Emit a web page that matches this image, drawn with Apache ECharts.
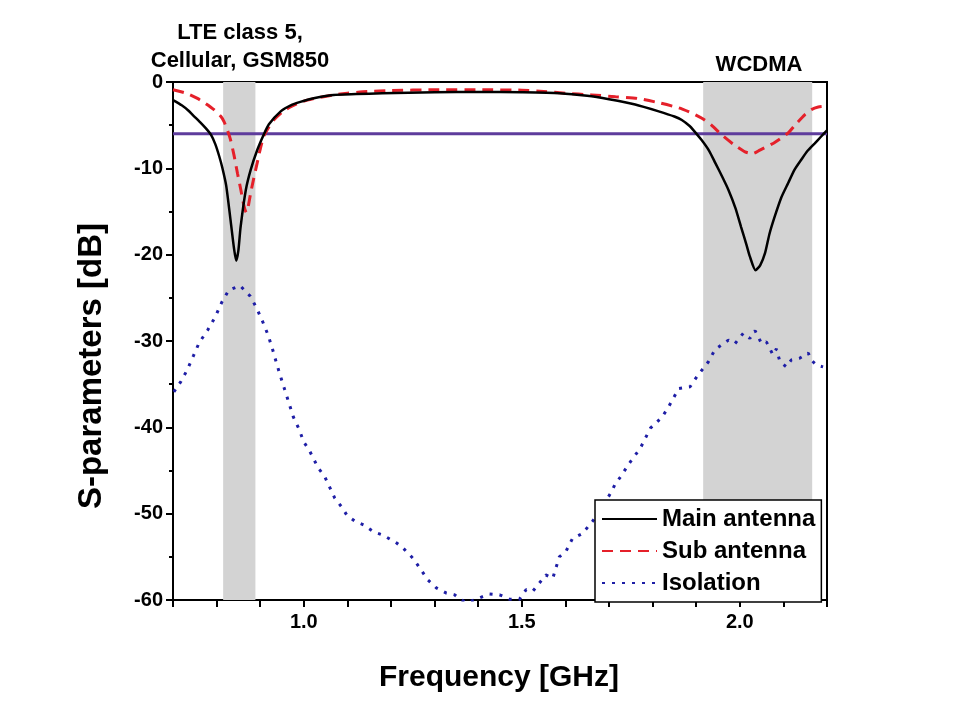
<!DOCTYPE html>
<html>
<head>
<meta charset="utf-8">
<script src="https://cdn.jsdelivr.net/npm/echarts@6/dist/echarts.min.js"></script>
<style>
html,body{margin:0;padding:0;background:#fff;}
#chart{width:960px;height:720px;}
</style>
</head>
<body>
<div id="chart"></div>
<script>
// ---- data (frequency GHz, dB) ----
const mainAntenna = [
  [0.70,-2.1],[0.72,-2.7],[0.735,-3.3],[0.749,-4.0],[0.762,-4.65],[0.775,-5.35],[0.787,-6.1],[0.797,-7.2],[0.806,-8.6],[0.813,-9.9],
  [0.822,-12.0],[0.832,-16.0],[0.840,-19.3],[0.845,-20.7],[0.850,-19.5],[0.855,-16.8],[0.867,-12.5],
  [0.878,-10.2],[0.893,-7.9],[0.908,-6.1],[0.920,-4.9],[0.947,-3.4],[0.970,-2.7],[0.992,-2.3],[1.02,-1.9],
  [1.068,-1.5],[1.12,-1.4],[1.18,-1.3],[1.30,-1.2],[1.40,-1.15],[1.50,-1.2],[1.586,-1.3],[1.65,-1.6],
  [1.70,-2.0],[1.76,-2.6],[1.814,-3.4],[1.85,-4.0],[1.867,-4.4],[1.885,-5.1],[1.894,-5.6],[1.912,-6.7],
  [1.93,-8.0],[1.944,-9.4],[1.96,-11.0],[1.974,-12.5],[1.99,-14.6],[2.003,-16.8],[2.015,-18.8],
  [2.023,-20.2],[2.036,-21.8],[2.047,-21.2],[2.058,-19.8],[2.068,-17.6],[2.08,-15.6],[2.095,-13.4],
  [2.111,-11.7],[2.125,-10.2],[2.141,-9.0],[2.155,-8.0],[2.172,-7.1],[2.185,-6.4],[2.20,-5.6]
];
const subAntenna = [
  [0.70,-0.9],[0.73,-1.3],[0.756,-1.9],[0.775,-2.5],[0.794,-3.2],[0.81,-4.0],[0.817,-4.6],[0.825,-5.6],
  [0.832,-6.7],[0.84,-8.5],[0.848,-10.6],[0.856,-12.6],[0.863,-14.4],[0.868,-15.1],[0.873,-14.3],
  [0.878,-12.9],[0.885,-11.2],[0.893,-9.4],[0.90,-7.8],[0.908,-6.3],[0.92,-5.2],[0.931,-4.4],[0.95,-3.5],
  [0.969,-2.9],[0.99,-2.4],[1.008,-2.1],[1.035,-1.8],[1.068,-1.5],[1.10,-1.3],[1.145,-1.1],[1.20,-1.0],
  [1.30,-0.9],[1.41,-0.9],[1.50,-0.95],[1.55,-1.1],[1.60,-1.3],[1.66,-1.5],[1.715,-1.7],[1.765,-1.9],
  [1.814,-2.4],[1.86,-3.0],[1.89,-3.6],[1.913,-4.2],[1.935,-5.0],[1.958,-6.1],[1.985,-7.2],[2.012,-8.1],
  [2.03,-8.3],[2.046,-7.9],[2.08,-7.0],[2.111,-5.9],[2.13,-4.8],[2.149,-3.8],[2.164,-3.2],[2.18,-2.9],[2.20,-2.8]
];
const isolation = [
  [0.702,-35.9],[0.718,-34.7],[0.732,-33.4],[0.747,-31.7],[0.760,-30.2],[0.780,-28.7],[0.797,-27.2],
  [0.812,-25.5],[0.828,-24.1],[0.854,-23.6],[0.877,-24.8],[0.892,-26.2],[0.906,-27.8],[0.918,-29.3],
  [0.928,-30.9],[0.937,-32.5],[0.946,-34.0],[0.956,-35.6],[0.966,-37.2],[0.976,-38.8],[0.989,-40.2],
  [1.000,-41.7],[1.012,-42.6],[1.024,-43.8],[1.033,-44.7],[1.048,-45.7],[1.059,-46.9],[1.071,-48.2],
  [1.088,-49.3],[1.099,-50.2],[1.118,-50.9],[1.137,-51.3],[1.160,-52.1],[1.182,-52.5],[1.213,-53.4],
  [1.228,-54.0],[1.251,-55.2],[1.266,-56.3],[1.285,-57.7],[1.304,-58.6],[1.327,-59.2],[1.346,-59.4],
  [1.358,-59.9],[1.373,-60.3],[1.396,-59.9],[1.41,-59.6],[1.426,-59.3],[1.449,-59.4],[1.472,-59.9],
  [1.495,-59.9],[1.51,-58.8],[1.525,-59.0],[1.533,-58.5],[1.555,-57.1],[1.571,-57.5],[1.586,-55.0],
  [1.601,-54.4],[1.616,-52.9],[1.639,-52.3],[1.662,-50.9],[1.685,-49.2],[1.704,-47.6],[1.715,-46.5],
  [1.727,-45.7],[1.746,-44.2],[1.772,-42.4],[1.795,-40.1],[1.822,-38.8],[1.837,-37.6],[1.86,-35.5],
  [1.886,-35.3],[1.902,-34.1],[1.928,-32.4],[1.943,-31.0],[1.974,-29.9],[1.989,-30.3],[2.008,-29.1],
  [2.023,-29.7],[2.035,-28.8],[2.05,-30.3],[2.061,-30.1],[2.076,-31.6],[2.084,-30.9],[2.092,-32.4],
  [2.107,-33.0],[2.118,-32.2],[2.137,-32.0],[2.157,-31.4],[2.164,-32.2],[2.176,-32.8],[2.191,-33.0]
];
const threshold = [[0.7,-6],[2.2,-6]];
const bands = [[0.815,0.889],[1.916,2.166]];
const xTickLabels = [1.0,1.5,2.0];

const chart = echarts.init(document.getElementById('chart'), null, {renderer:'canvas'});
const font = 'Arial, "Liberation Sans", sans-serif';
const option = {
  animation:false,
  backgroundColor:'#fff',
  grid:{left:173,right:133,top:82,bottom:120,show:true,borderColor:'#000',borderWidth:2,backgroundColor:'transparent'},
  xAxis:{
    type:'value',min:0.7,max:2.2,interval:0.1,
    axisLine:{show:true,onZero:false,lineStyle:{color:'#000',width:2}},
    axisTick:{show:true,inside:false,length:7,lineStyle:{color:'#000',width:2}},
    splitLine:{show:false},
    axisLabel:{color:'#000',fontFamily:font,fontWeight:'bold',fontSize:20,margin:12,
      formatter:function(v){
        for(const t of xTickLabels){ if(Math.abs(v-t)<1e-6) return t.toFixed(1); }
        return '';
      }}
  },
  yAxis:{
    type:'value',min:-60,max:0,interval:10,
    axisLine:{show:true,onZero:false,lineStyle:{color:'#000',width:2}},
    axisTick:{show:true,inside:false,length:7,lineStyle:{color:'#000',width:2}},
    minorTick:{show:true,splitNumber:2,length:4,lineStyle:{color:'#000',width:2}},
    splitLine:{show:false},
    axisLabel:{color:'#000',fontFamily:font,fontWeight:'bold',fontSize:20,margin:10}
  },
  legend:{
    data:['Main antenna','Sub antenna','Isolation'],
    orient:'vertical',left:595,top:500,
    padding:[5,6,5,6],itemGap:4,itemWidth:55,itemHeight:14,
    backgroundColor:'#fff',borderColor:'#000',borderWidth:1.5,borderRadius:0,
    itemStyle:{opacity:0},
    textStyle:{color:'#000',fontFamily:font,fontWeight:'bold',fontSize:24,lineHeight:28},
    z:20
  },
  series:[
    {name:'bands',type:'line',data:[],z:1,silent:true,
      markArea:{silent:true,itemStyle:{color:'#d3d3d3',opacity:1},
        data:bands.map(b=>[{xAxis:b[0]},{xAxis:b[1]}])}},
    {name:'threshold',type:'line',data:threshold,z:2,symbol:'none',silent:true,
      lineStyle:{color:'#5e3c9c',width:3}},
    {name:'Isolation',type:'line',data:isolation,z:3,symbol:'none',showSymbol:false,
      lineStyle:{color:'#1e1ea6',width:3,type:[3,7],cap:'butt'},itemStyle:{color:'#1e1ea6'}},
    {name:'Sub antenna',type:'line',data:subAntenna,z:4,symbol:'none',showSymbol:false,smooth:0.2,
      lineStyle:{color:'#e5202a',width:3,type:[11,7]},itemStyle:{color:'#e5202a'}},
    {name:'Main antenna',type:'line',data:mainAntenna,z:5,symbol:'none',showSymbol:false,smooth:0.2,
      lineStyle:{color:'#000',width:2.5},itemStyle:{color:'#000'}}
  ],
  graphic:[
    {type:'text',x:240,y:33,z:30,style:{text:'LTE class 5,',fill:'#000',font:'bold 22px '+font,textAlign:'center',textVerticalAlign:'middle'}},
    {type:'text',x:240,y:61,z:30,style:{text:'Cellular, GSM850',fill:'#000',font:'bold 22px '+font,textAlign:'center',textVerticalAlign:'middle'}},
    {type:'text',x:759,y:65,z:30,style:{text:'WCDMA',fill:'#000',font:'bold 22px '+font,textAlign:'center',textVerticalAlign:'middle'}},
    {type:'text',x:499,y:678,z:30,style:{text:'Frequency [GHz]',fill:'#000',font:'bold 30px '+font,textAlign:'center',textVerticalAlign:'middle'}},
    {type:'text',x:92,y:366,rotation:Math.PI/2,z:30,style:{text:'S-parameters [dB]',fill:'#000',font:'bold 33px '+font,textAlign:'center',textVerticalAlign:'middle'}}
  ]
};
chart.setOption(option);
</script>
</body>
</html>
